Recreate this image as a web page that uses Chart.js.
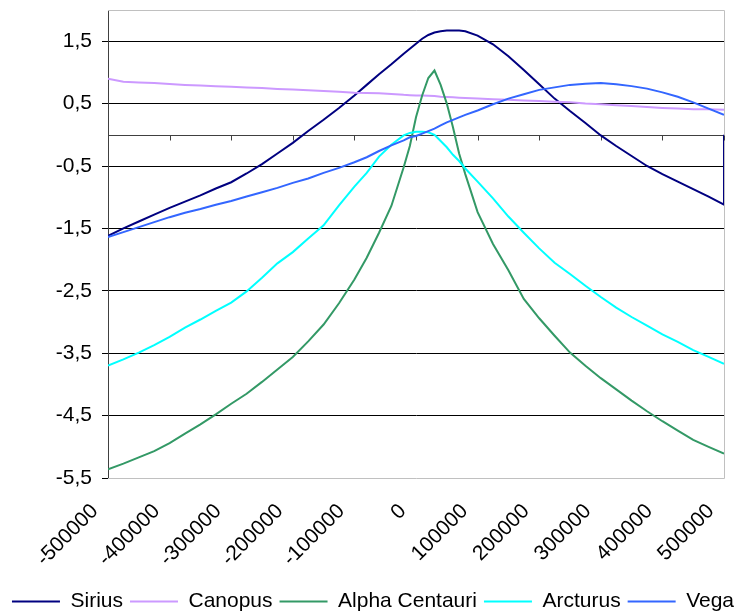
<!DOCTYPE html>
<html>
<head>
<meta charset="utf-8">
<script src="https://cdn.jsdelivr.net/npm/chart.js@4/dist/chart.umd.min.js"></script>
<style>
  body { margin: 0; background: #fff; }
  #wrap { width: 746px; height: 614px; }
</style>
</head>
<body>
<div id="wrap"><canvas id="starChart" width="746" height="614"></canvas></div>
<script>
// years (x axis) shared by every series
const years = [-500000, -475000, -450000, -425000, -400000, -375000, -350000, -325000, -300000,
  -275000, -250000, -225000, -200000, -175000, -150000, -125000, -100000, -80000, -60000,
  -40000, -20000, -10000, 0, 10000, 20000, 30000, 40000, 50000, 60000, 70000, 80000,
  100000, 125000, 150000, 175000, 200000, 225000, 250000, 275000, 300000, 325000, 350000,
  375000, 400000, 425000, 450000, 475000, 500000];

const sirius = [-1.62, -1.50, -1.39, -1.28, -1.17, -1.07, -0.97, -0.86, -0.76,
  -0.62, -0.47, -0.30, -0.13, 0.06, 0.24, 0.43, 0.63, 0.80, 0.97,
  1.13, 1.30, 1.38, 1.46, 1.54, 1.60, 1.64, 1.66, 1.67, 1.67, 1.67, 1.66,
  1.59, 1.45, 1.26, 1.04, 0.81, 0.58, 0.38, 0.19, -0.01, -0.18, -0.34,
  -0.50, -0.63, -0.75, -0.87, -0.99, -1.12];
const siriusLast = 0; // last row of the Sirius column reads 0 (the drop at the right edge)

const canopus = [0.90, 0.85, 0.84, 0.83, 0.815, 0.80, 0.79, 0.78, 0.77,
  0.76, 0.75, 0.735, 0.725, 0.715, 0.70, 0.69, 0.675, 0.67, 0.665,
  0.655, 0.64, 0.635, 0.63, 0.63, 0.625, 0.62, 0.61, 0.605, 0.60, 0.595, 0.59,
  0.58, 0.57, 0.56, 0.55, 0.54, 0.53, 0.52, 0.50, 0.49, 0.475, 0.46,
  0.445, 0.43, 0.42, 0.41, 0.41, 0.40];

const alphaCentauri = [-5.36, -5.27, -5.17, -5.07, -4.94, -4.79, -4.64, -4.48, -4.31,
  -4.15, -3.96, -3.76, -3.56, -3.31, -3.04, -2.70, -2.32, -1.97, -1.57,
  -1.14, -0.52, -0.18, 0.28, 0.63, 0.91, 1.03, 0.80, 0.50, 0.12, -0.30, -0.63,
  -1.24, -1.75, -2.17, -2.63, -2.94, -3.22, -3.49, -3.70, -3.90, -4.08, -4.26,
  -4.43, -4.59, -4.74, -4.89, -5.00, -5.11];

const arcturus = [-3.70, -3.60, -3.49, -3.37, -3.24, -3.09, -2.96, -2.82, -2.69,
  -2.51, -2.29, -2.06, -1.88, -1.66, -1.45, -1.13, -0.83, -0.61, -0.35,
  -0.16, -0.01, 0.03, 0.05, 0.05, 0.04, 0.00, -0.10, -0.20, -0.32, -0.42, -0.54,
  -0.75, -1.02, -1.31, -1.57, -1.82, -2.05, -2.23, -2.42, -2.60, -2.77, -2.92,
  -3.06, -3.20, -3.32, -3.45, -3.56, -3.67];

const vega = [-1.64, -1.56, -1.48, -1.40, -1.32, -1.25, -1.19, -1.12, -1.06,
  -0.99, -0.92, -0.85, -0.77, -0.70, -0.61, -0.53, -0.44, -0.36, -0.26,
  -0.17, -0.09, -0.04, -0.02, 0.02, 0.06, 0.10, 0.15, 0.20, 0.24, 0.28, 0.32,
  0.39, 0.49, 0.58, 0.65, 0.72, 0.76, 0.80, 0.82, 0.83, 0.81, 0.78,
  0.74, 0.68, 0.61, 0.52, 0.42, 0.32];

const seriesNames = ['Sirius', 'Canopus', 'Alpha Centauri', 'Arcturus', 'Vega'];
const seriesColors = ['#000080', '#cc99ff', '#339966', '#00ffff', '#3366ff'];

const xTicks = [-500000, -400000, -300000, -200000, -100000, 0, 100000, 200000, 300000, 400000, 500000];
const yTicks = [-5.5, -4.5, -3.5, -2.5, -1.5, -0.5, 0.5, 1.5];

const font = { family: '"Liberation Sans", Arial, sans-serif', size: 21 };

function toPoints(values) {
  return values.map((v, i) => ({ x: years[i], y: v }));
}

const siriusPoints = toPoints(sirius);
siriusPoints.push({ x: years[years.length - 1], y: siriusLast });

const allValues = [siriusPoints, toPoints(canopus), toPoints(alphaCentauri), toPoints(arcturus), toPoints(vega)];

// no extra room for the end labels, the plot box is set by hand
function noPad(s) {
  s.paddingTop = 0;
  s.paddingBottom = 0;
  s.paddingLeft = 0;
  s.paddingRight = 0;
}

// plot frame, zero axis line and its tick marks
const frame = {
  id: 'frame',
  beforeDatasetsDraw(chart) {
    const { ctx, chartArea: a, scales } = chart;
    ctx.save();
    ctx.strokeStyle = '#c0c0c0';
    ctx.lineWidth = 1;
    ctx.beginPath();
    ctx.moveTo(a.left, a.top + 0.5);
    ctx.lineTo(a.right + 0.5, a.top + 0.5);
    ctx.lineTo(a.right + 0.5, a.bottom + 0.5);
    ctx.lineTo(a.left, a.bottom + 0.5);
    ctx.stroke();

    const y0 = Math.round(scales.y.getPixelForValue(0)) + 0.5;
    ctx.strokeStyle = '#404040';
    ctx.beginPath();
    ctx.moveTo(a.left, y0);
    ctx.lineTo(a.right, y0);
    xTicks.forEach(v => {
      const x = Math.round(scales.x.getPixelForValue(v)) + 0.5;
      ctx.moveTo(x, y0);
      ctx.lineTo(x, y0 + 5);
    });
    ctx.stroke();
    ctx.restore();
  }
};

const ctx = document.getElementById('starChart').getContext('2d');
const chart = new Chart(ctx, {
  type: 'scatter',
  data: {
    datasets: seriesNames.map((name, i) => ({
      label: name,
      data: allValues[i],
      showLine: true,
      borderColor: seriesColors[i],
      backgroundColor: seriesColors[i],
      borderWidth: 2,
      pointRadius: 0,
      tension: 0,
      order: seriesNames.length - i
    }))
  },
  options: {
    responsive: false,
    animation: false,
    layout: { padding: { top: 10, right: 0, left: 0, bottom: -8 } },
    scales: {
      x: {
        type: 'linear',
        min: -500000,
        max: 500000,
        afterBuildTicks: s => { s.ticks = xTicks.map(v => ({ value: v })); },
        afterFit: s => { noPad(s); s.height = 106; },
        ticks: {
          callback: v => String(v),
          minRotation: 45,
          maxRotation: 45,
          autoSkip: false,
          padding: 21,
          labelOffset: -13,
          color: '#000',
          font: font
        },
        grid: { display: false, drawTicks: false },
        border: { display: false }
      },
      y: {
        min: -5.5,
        max: 2,
        afterBuildTicks: s => { s.ticks = yTicks.map(v => ({ value: v })); },
        afterFit: s => { noPad(s); s.width = 108; },
        ticks: {
          callback: v => String(v).replace('.', ','),
          padding: 10,
          color: '#000',
          font: font
        },
        grid: {
          color: c => (c.tick && c.tick.value === -5.5) ? 'rgba(0,0,0,0)' : '#000',
          tickColor: '#000',
          tickLength: 6,
          lineWidth: 1
        },
        border: { color: '#404040', width: 1 }
      },
      // empty right-hand spacer so the legend can use the full width
      spacer: {
        type: 'linear',
        position: 'right',
        afterFit: s => { noPad(s); s.width = 22; },
        ticks: { display: false },
        grid: { display: false, drawTicks: false },
        border: { display: false }
      }
    },
    plugins: {
      legend: {
        position: 'bottom',
        labels: {
          boxWidth: 48,
          boxHeight: 0,
          padding: 7,
          color: '#000',
          font: font,
          sort: (a, b) => a.datasetIndex - b.datasetIndex
        }
      },
      tooltip: { enabled: false }
    }
  },
  plugins: [frame]
});
</script>
</body>
</html>
